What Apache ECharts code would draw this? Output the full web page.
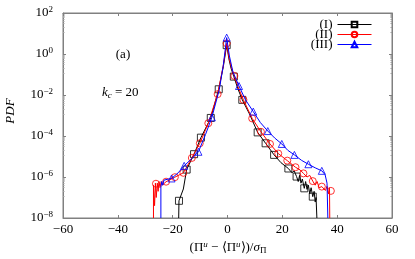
<!DOCTYPE html>
<html><head><meta charset="utf-8">
<script src="https://cdn.jsdelivr.net/npm/echarts@6/dist/echarts.min.js"></script>
<style>html,body{margin:0;padding:0;background:#fff}#c{width:415px;height:259px}</style>
</head><body><div id="c"></div>
<script>
// ---- data (x, PDF) ----
var seriesNames = ['(I)', '(II)', '(III)'];
var xTicks = [-60, -40, -20, 0, 20, 40, 60];
var yTickExponents = [-8, -6, -4, -2, 0, 2];

var curveI = [[-17.8,1e-8],[-17.7,6.9e-8],[-16.1,2.6e-7],[-14.9,2.3e-6],[-12.2,1.3e-5],[-9.7,8.3e-5],[-6.1,7.6e-4],[-3.2,1.9e-2],[-1.5,2.5e-1],[-0.3,2.7],[0.6,5e-1],[1.3,2e-1],[2.3,7.9e-2],[3.8,2e-2],[5.4,5.8e-3],[8,1.2e-3],[11,1.5e-4],[13.9,4.4e-5],[17,1.2e-5],[19.5,5e-6],[22.2,2.6e-6],[23.5,1.6e-6],[24.3,2e-6],[25.2,1.05e-6],[25.8,6e-7],[26.3,1.2e-6],[26.8,5e-7],[27.3,8e-7],[28,2.8e-7],[28.5,6e-7],[29,2.5e-7],[29.5,4e-7],[30,1.5e-7],[30.5,3e-7],[31.1,1.1e-7],[31.6,2e-7],[32,6e-8],[32.3,1e-7],[32.6,1e-8]];
var markersI = [[-17.7,6.9e-8],[-14.9,2.3e-6],[-12.2,1.3e-5],[-9.7,8.3e-5],[-6.1,7.6e-4],[-3.2,1.9e-2],[-0.3,2.7],[2.3,7.9e-2],[5.4,5.8e-3],[11,1.5e-4],[13.9,4.4e-5],[17,1.2e-5],[22.2,2.6e-6],[25.2,1.05e-6],[28,2.8e-7],[31.1,1.1e-7]];

var curveII = [[-27,1e-8],[-27,4e-7],[-26.6,4e-8],[-26.3,5e-7],[-26,1e-7],[-25.6,5e-7],[-25.3,2e-7],[-25,6e-7],[-24.6,3e-7],[-24.2,6e-7],[-23.8,4e-7],[-22.4,5.9e-7],[-20.5,8e-7],[-19.2,9.8e-7],[-16.1,1.6e-6],[-13,8.5e-6],[-10.1,4.4e-5],[-7,4.2e-4],[-3.6,1.1e-2],[-1.6,2.5e-1],[-0.3,3.3],[0.6,6e-1],[1.4,2.3e-1],[2.5,8.5e-2],[4,2.2e-2],[5.8,5.8e-3],[9,7.2e-4],[12.2,1.6e-4],[15.5,4.1e-5],[18.5,1.4e-5],[21.8,6.3e-6],[24.8,3e-6],[26.5,2.2e-6],[27.7,1.5e-6],[29,1e-6],[30,1.2e-6],[31.1,6.3e-7],[32,4e-7],[32.7,6e-7],[33.4,3e-7],[34.4,3.4e-7],[35,4e-7],[35.7,2.2e-7],[36.3,3.5e-7],[36.9,1.5e-7],[37.2,3e-7],[37.3,1e-8]];
var markersII = [[-26.1,4.7e-7],[-22.4,5.9e-7],[-19.2,9.8e-7],[-16.1,1.6e-6],[-13,8.5e-6],[-10.1,4.4e-5],[-7,4.2e-4],[-3.6,1.1e-2],[-0.3,3.3],[2.5,8.5e-2],[5.8,5.8e-3],[9,7.2e-4],[12.2,1.6e-4],[15.5,4.1e-5],[18.5,1.4e-5],[21.8,6.3e-6],[24.8,3e-6],[27.7,1.5e-6],[31.1,6.3e-7],[34.4,3.4e-7],[37.7,2.1e-7]];

var curveIII = [[-24.3,1e-8],[-24.3,3e-7],[-24,6e-7],[-23.6,4e-7],[-23.2,7e-7],[-22.5,6e-7],[-21.5,8e-7],[-20.4,8.5e-7],[-18,1.6e-6],[-15.8,3.5e-6],[-13,8e-6],[-10.6,1.7e-5],[-8,1.2e-4],[-5.7,8.1e-4],[-3,1.8e-2],[-1.5,3e-1],[-0.3,6.3],[0.7,8e-1],[2,1.3e-1],[4.2,2.75e-2],[6.5,6e-3],[9.4,1.55e-3],[12,4.5e-4],[14.7,1.74e-4],[17.2,8e-5],[19.8,4.1e-5],[22,2e-5],[24.4,1.2e-5],[27,6.5e-6],[29.5,4.2e-6],[32,2.8e-6],[34.4,2e-6],[35.6,1.3e-6],[36.3,5e-7],[36.6,1e-8]];
var markersIII = [[-20.4,8.5e-7],[-15.8,3.5e-6],[-10.6,1.7e-5],[-5.7,8.1e-4],[-0.3,6.3],[4.2,2.75e-2],[9.4,1.55e-3],[14.7,1.74e-4],[19.8,4.1e-5],[24.4,1.2e-5],[29.5,4.2e-6],[34.4,2e-6]];

// ---- chart ----
var FONT = 'Liberation Serif';
var colors = ['#000000', '#ff0000', '#0000ff'];
var symbols = ['rect', 'circle', 'triangle'];
var curves = [curveI, curveII, curveIII];
var markers = [markersI, markersII, markersIII];

var chart = echarts.init(document.getElementById('c'), null, {renderer: 'canvas'});

function xFmt(v) { return v < 0 ? '\u2212' + Math.abs(v) : String(v); }
function yFmt(v) {
  var e = Math.round(Math.log10(v));
  if (yTickExponents.indexOf(e) < 0) return '';
  return '{b|10}{s|' + (e < 0 ? '\u2212' + (-e) : e) + '}';
}

var axisLine = {show: true, onZero: false, lineStyle: {color: '#808080', width: 1}};
var series = [];
for (var i = 0; i < 3; i++) {
  series.push({
    name: seriesNames[i], type: 'line', data: curves[i], xAxisIndex: 0, yAxisIndex: 0,
    symbol: symbols[i], symbolSize: 7, showSymbol: false,
    lineStyle: {color: colors[i], width: 1}, itemStyle: {color: 'transparent', borderColor: colors[i], borderWidth: 1},
    silent: true, animation: false, z: 2 + i
  });
  series.push({
    name: seriesNames[i] + 'm', type: 'scatter', data: markers[i],
    symbol: symbols[i], symbolSize: 7,
    itemStyle: {color: 'transparent', borderColor: colors[i], borderWidth: 1},
    silent: true, animation: false, z: 2 + i
  });
}

chart.setOption({
  animation: false,
  grid: {left: 63, right: 23, top: 13, bottom: 41, show: true, borderColor: '#808080', borderWidth: 1},
  legend: {
    data: seriesNames, orient: 'vertical', right: 38, top: 13, align: 'right',
    itemWidth: 34, itemHeight: 7, itemGap: -3,
    lineStyle: {width: 1},
    textStyle: {fontFamily: FONT, fontSize: 13, color: '#000', lineHeight: 12}
  },
  xAxis: [{
    type: 'value', min: -60, max: 60, interval: 20,
    axisLine: axisLine, splitLine: {show: false},
    axisTick: {show: true, inside: true, length: 3, lineStyle: {color: '#808080'}},
    axisLabel: {formatter: xFmt, fontFamily: FONT, fontSize: 13, color: '#000', margin: 5}
  }, {
    type: 'value', min: -60, max: 60, interval: 20, position: 'top',
    axisLine: axisLine, splitLine: {show: false},
    axisTick: {show: true, inside: true, length: 3, lineStyle: {color: '#808080'}},
    axisLabel: {show: false}
  }],
  yAxis: [{
    type: 'log', logBase: 10, min: 1e-8, max: 1e2, interval: 2,
    axisLine: axisLine, splitLine: {show: false},
    axisTick: {show: true, inside: true, length: 3, lineStyle: {color: '#808080'}},
    minorTick: {show: true, splitNumber: 10, length: 1.5, lineStyle: {color: '#a0a0a0'}},
    axisLabel: {formatter: yFmt, margin: 10, color: '#000',
      rich: {b: {fontFamily: FONT, fontSize: 13, color: '#000'}, s: {fontFamily: FONT, fontSize: 9, color: '#000', verticalAlign: 'top', padding: [0, 0, 7, 0]}}}
  }, {
    type: 'log', logBase: 10, min: 1e-8, max: 1e2, interval: 2, position: 'right',
    axisLine: axisLine, splitLine: {show: false},
    axisTick: {show: true, inside: true, length: 3, lineStyle: {color: '#808080'}},
    minorTick: {show: true, splitNumber: 10, length: 1.5, lineStyle: {color: '#a0a0a0'}},
    axisLabel: {show: false}
  }],
  graphic: [
    {type: 'text', x: 123, y: 55, style: {text: '(a)', font: '13px "Liberation Serif"', fill: '#000', align: 'center', verticalAlign: 'middle'}},
    {type: 'text', x: 102, y: 93, style: {text: '{i|k}{sb|c}{n| = 20}', align: 'left', verticalAlign: 'middle',
      rich: {i: {fontFamily: FONT, fontStyle: 'italic', fontSize: 13, fill: '#000'}, sb: {fontFamily: FONT, fontStyle: 'italic', fontSize: 9, padding: [6, 0, 0, 0]}, n: {fontFamily: FONT, fontSize: 13}}}},
    {type: 'text', x: 11, y: 111, rotation: Math.PI / 2, style: {text: 'PDF', font: 'italic 13px "Liberation Serif"', fill: '#000', align: 'center', verticalAlign: 'middle'}},
    {type: 'text', x: 228, y: 248, style: {text: '{n|(\u03A0}{sp|u}{n| \u2212 \u27E8\u03A0}{sp|u}{n|\u27E9)/}{i|\u03C3}{sb|\u03A0}', align: 'center', verticalAlign: 'middle',
      rich: {n: {fontFamily: FONT, fontSize: 13}, i: {fontFamily: FONT, fontStyle: 'italic', fontSize: 13}, sp: {fontFamily: FONT, fontStyle: 'italic', fontSize: 9, padding: [0, 0, 6, 0]}, sb: {fontFamily: FONT, fontSize: 9, padding: [6, 0, 0, 0]}}}}
  ],
  series: series
});
</script></body></html>
